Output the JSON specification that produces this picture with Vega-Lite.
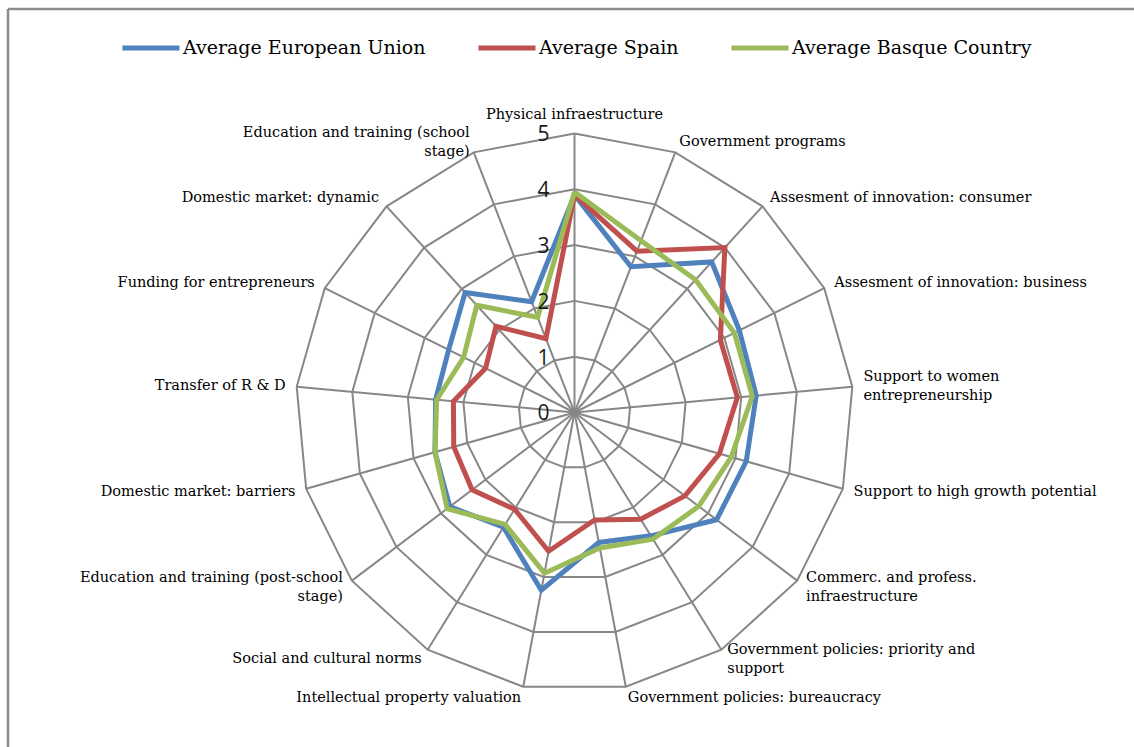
{
  "$schema": "https://vega.github.io/schema/vega-lite/v6.json",
  "width": 1126,
  "height": 738,
  "autosize": "none",
  "padding": {"left": 8, "top": 9, "right": 0, "bottom": 0},
  "background": "white",
  "config": {"view": {"stroke": null}},
  "datasets": {
    "cats": [
      {"k": 0, "label": "Physical infraestructure"},
      {"k": 1, "label": "Government programs"},
      {"k": 2, "label": "Assesment of innovation: consumer"},
      {"k": 3, "label": "Assesment of innovation: business"},
      {"k": 4, "label": "Support to women\nentrepreneurship"},
      {"k": 5, "label": "Support to high growth potential"},
      {"k": 6, "label": "Commerc. and profess.\ninfraestructure"},
      {"k": 7, "label": "Government policies: priority and\nsupport"},
      {"k": 8, "label": "Government policies: bureaucracy"},
      {"k": 9, "label": "Intellectual property valuation"},
      {"k": 10, "label": "Social and cultural norms"},
      {"k": 11, "label": "Education and training (post-school\nstage)"},
      {"k": 12, "label": "Domestic market: barriers"},
      {"k": 13, "label": "Transfer of R & D"},
      {"k": 14, "label": "Funding for entrepreneurs"},
      {"k": 15, "label": "Domestic market: dynamic"},
      {"k": 16, "label": "Education and training (school\nstage)"}
    ],
    "grid": [
      {"k": 0, "ring": [0, 1, 2, 3, 4, 5]}, {"k": 1, "ring": [0, 1, 2, 3, 4, 5]}, {"k": 2, "ring": [0, 1, 2, 3, 4, 5]},
      {"k": 3, "ring": [0, 1, 2, 3, 4, 5]}, {"k": 4, "ring": [0, 1, 2, 3, 4, 5]}, {"k": 5, "ring": [0, 1, 2, 3, 4, 5]},
      {"k": 6, "ring": [0, 1, 2, 3, 4, 5]}, {"k": 7, "ring": [0, 1, 2, 3, 4, 5]}, {"k": 8, "ring": [0, 1, 2, 3, 4, 5]},
      {"k": 9, "ring": [0, 1, 2, 3, 4, 5]}, {"k": 10, "ring": [0, 1, 2, 3, 4, 5]}, {"k": 11, "ring": [0, 1, 2, 3, 4, 5]},
      {"k": 12, "ring": [0, 1, 2, 3, 4, 5]}, {"k": 13, "ring": [0, 1, 2, 3, 4, 5]}, {"k": 14, "ring": [0, 1, 2, 3, 4, 5]},
      {"k": 15, "ring": [0, 1, 2, 3, 4, 5]}, {"k": 16, "ring": [0, 1, 2, 3, 4, 5]}, {"k": 17, "ring": [0, 1, 2, 3, 4, 5]}
    ],
    "ticks": [{"v": 0}, {"v": 1}, {"v": 2}, {"v": 3}, {"v": 4}, {"v": 5}],
    "series": [
      {"series": "Average European Union", "k": 0, "value": 3.9},
      {"series": "Average European Union", "k": 1, "value": 2.8},
      {"series": "Average European Union", "k": 2, "value": 3.65},
      {"series": "Average European Union", "k": 3, "value": 3.3},
      {"series": "Average European Union", "k": 4, "value": 3.27},
      {"series": "Average European Union", "k": 5, "value": 3.2},
      {"series": "Average European Union", "k": 6, "value": 3.19},
      {"series": "Average European Union", "k": 7, "value": 2.6},
      {"series": "Average European Union", "k": 8, "value": 2.37},
      {"series": "Average European Union", "k": 9, "value": 3.24},
      {"series": "Average European Union", "k": 10, "value": 2.42},
      {"series": "Average European Union", "k": 11, "value": 2.8},
      {"series": "Average European Union", "k": 12, "value": 2.6},
      {"series": "Average European Union", "k": 13, "value": 2.5},
      {"series": "Average European Union", "k": 14, "value": 2.52},
      {"series": "Average European Union", "k": 15, "value": 2.91},
      {"series": "Average European Union", "k": 16, "value": 2.13},
      {"series": "Average European Union", "k": 17, "value": 3.9},
      {"series": "Average Spain", "k": 0, "value": 3.9},
      {"series": "Average Spain", "k": 1, "value": 3.1},
      {"series": "Average Spain", "k": 2, "value": 4.0},
      {"series": "Average Spain", "k": 3, "value": 2.92},
      {"series": "Average Spain", "k": 4, "value": 2.93},
      {"series": "Average Spain", "k": 5, "value": 2.7},
      {"series": "Average Spain", "k": 6, "value": 2.48},
      {"series": "Average Spain", "k": 7, "value": 2.25},
      {"series": "Average Spain", "k": 8, "value": 1.96},
      {"series": "Average Spain", "k": 9, "value": 2.53},
      {"series": "Average Spain", "k": 10, "value": 2.04},
      {"series": "Average Spain", "k": 11, "value": 2.3},
      {"series": "Average Spain", "k": 12, "value": 2.25},
      {"series": "Average Spain", "k": 13, "value": 2.18},
      {"series": "Average Spain", "k": 14, "value": 1.78},
      {"series": "Average Spain", "k": 15, "value": 2.09},
      {"series": "Average Spain", "k": 16, "value": 1.42},
      {"series": "Average Spain", "k": 17, "value": 3.9},
      {"series": "Average Basque Country", "k": 0, "value": 3.95},
      {"series": "Average Basque Country", "k": 1, "value": 3.3},
      {"series": "Average Basque Country", "k": 2, "value": 3.22},
      {"series": "Average Basque Country", "k": 3, "value": 3.2},
      {"series": "Average Basque Country", "k": 4, "value": 3.2},
      {"series": "Average Basque Country", "k": 5, "value": 2.92},
      {"series": "Average Basque Country", "k": 6, "value": 2.79},
      {"series": "Average Basque Country", "k": 7, "value": 2.67},
      {"series": "Average Basque Country", "k": 8, "value": 2.47},
      {"series": "Average Basque Country", "k": 9, "value": 2.93},
      {"series": "Average Basque Country", "k": 10, "value": 2.36},
      {"series": "Average Basque Country", "k": 11, "value": 2.86},
      {"series": "Average Basque Country", "k": 12, "value": 2.6},
      {"series": "Average Basque Country", "k": 13, "value": 2.48},
      {"series": "Average Basque Country", "k": 14, "value": 2.22},
      {"series": "Average Basque Country", "k": 15, "value": 2.6},
      {"series": "Average Basque Country", "k": 16, "value": 1.83},
      {"series": "Average Basque Country", "k": 17, "value": 3.95}
    ]
  },
  "layer": [
    {
      "data": {"values": [{"edge": "top"}]},
      "mark": {"type": "rule", "color": "#8c8c8c", "strokeWidth": 2.5},
      "encoding": {
        "y": {"datum": 7.231, "type": "quantitative", "scale": {"domain": [-5.995, 7.231], "nice": false, "zero": false}, "axis": null}
      }
    },
    {
      "data": {"values": [{"edge": "left"}]},
      "mark": {"type": "rule", "color": "#8c8c8c", "strokeWidth": 2.5},
      "encoding": {
        "x": {"datum": -10.153, "type": "quantitative", "scale": {"domain": [-10.153, 10.027], "nice": false, "zero": false}, "axis": null}
      }
    },
    {
      "data": {"name": "grid"},
      "transform": [
        {"flatten": ["ring"]},
        {"filter": "datum.ring > 0"},
        {"calculate": "datum.ring * sin(datum.k * 2 * PI / 17)", "as": "gx"},
        {"calculate": "datum.ring * cos(datum.k * 2 * PI / 17)", "as": "gy"}
      ],
      "mark": {"type": "line", "color": "#878787", "strokeWidth": 2},
      "encoding": {
        "x": {"field": "gx", "type": "quantitative", "scale": {"domain": [-10.153, 10.027], "nice": false, "zero": false}, "axis": null},
        "y": {"field": "gy", "type": "quantitative", "scale": {"domain": [-5.995, 7.231], "nice": false, "zero": false}, "axis": null},
        "detail": {"field": "ring", "type": "nominal"},
        "order": {"field": "k", "type": "quantitative"}
      }
    },
    {
      "data": {"name": "grid"},
      "transform": [
        {"flatten": ["ring"]},
        {"filter": "datum.k < 17 && (datum.ring == 0 || datum.ring == 5)"},
        {"calculate": "datum.ring * sin(datum.k * 2 * PI / 17)", "as": "gx"},
        {"calculate": "datum.ring * cos(datum.k * 2 * PI / 17)", "as": "gy"}
      ],
      "mark": {"type": "line", "color": "#878787", "strokeWidth": 2},
      "encoding": {
        "x": {"field": "gx", "type": "quantitative", "scale": {"domain": [-10.153, 10.027], "nice": false, "zero": false}, "axis": null},
        "y": {"field": "gy", "type": "quantitative", "scale": {"domain": [-5.995, 7.231], "nice": false, "zero": false}, "axis": null},
        "detail": {"field": "k", "type": "nominal"},
        "order": {"field": "ring", "type": "quantitative"}
      }
    },
    {
      "data": {"name": "series"},
      "transform": [
        {"calculate": "datum.value * sin(datum.k * 2 * PI / 17)", "as": "px"},
        {"calculate": "datum.value * cos(datum.k * 2 * PI / 17)", "as": "py"}
      ],
      "mark": {"type": "line", "strokeWidth": 5, "strokeJoin": "miter"},
      "encoding": {
        "x": {"field": "px", "type": "quantitative", "scale": {"domain": [-10.153, 10.027], "nice": false, "zero": false}, "axis": null},
        "y": {"field": "py", "type": "quantitative", "scale": {"domain": [-5.995, 7.231], "nice": false, "zero": false}, "axis": null},
        "order": {"field": "k", "type": "quantitative"},
        "color": {
          "field": "series",
          "type": "nominal",
          "scale": {
            "domain": ["Average European Union", "Average Spain", "Average Basque Country"],
            "range": ["#4f81bd", "#c0504d", "#9bbb59"]
          },
          "legend": {
            "title": null,
            "orient": "none",
            "direction": "horizontal",
            "legendX": 112,
            "legendY": 8,
            "padding": 0,
            "symbolType": "stroke",
            "symbolSize": 3249,
            "symbolStrokeWidth": 5,
            "labelFont": "DejaVu Serif",
            "labelFontSize": 19,
            "labelColor": "#000000",
            "labelOffset": 1,
            "columnPadding": 42,
            "labelLimit": 400
          }
        }
      }
    },
    {
      "data": {"name": "cats"},
      "transform": [
        {"calculate": "5.2 * sin(datum.k * 2 * PI / 17)", "as": "lx"},
        {"calculate": "5.2 * cos(datum.k * 2 * PI / 17)", "as": "ly"}
      ],
      "mark": {
        "type": "text",
        "font": "DejaVu Serif",
        "fontSize": 14.5,
        "color": "#000000",
        "lineBreak": "\n",
        "lineHeight": 19,
        "align": {"expr": "datum.lx > 0.5 ? 'left' : (datum.lx < -0.5 ? 'right' : 'center')"},
        "baseline": {"expr": "datum.ly > 5 ? 'bottom' : 'middle'"},
        "dy": {"expr": "indexof(datum.label, '\\n') >= 0 ? -9 : 0"}
      },
      "encoding": {
        "x": {"field": "lx", "type": "quantitative", "scale": {"domain": [-10.153, 10.027], "nice": false, "zero": false}, "axis": null},
        "y": {"field": "ly", "type": "quantitative", "scale": {"domain": [-5.995, 7.231], "nice": false, "zero": false}, "axis": null},
        "text": {"field": "label"}
      }
    },
    {
      "data": {"name": "ticks"},
      "mark": {"type": "text", "font": "Open Sans", "fontSize": 21, "color": "#1a1a1a", "align": "right", "baseline": "middle", "dx": -25, "dy": 2},
      "encoding": {
        "x": {"datum": 0, "type": "quantitative", "scale": {"domain": [-10.153, 10.027], "nice": false, "zero": false}, "axis": null},
        "y": {"field": "v", "type": "quantitative", "scale": {"domain": [-5.995, 7.231], "nice": false, "zero": false}, "axis": null},
        "text": {"field": "v"}
      }
    }
  ]
}
